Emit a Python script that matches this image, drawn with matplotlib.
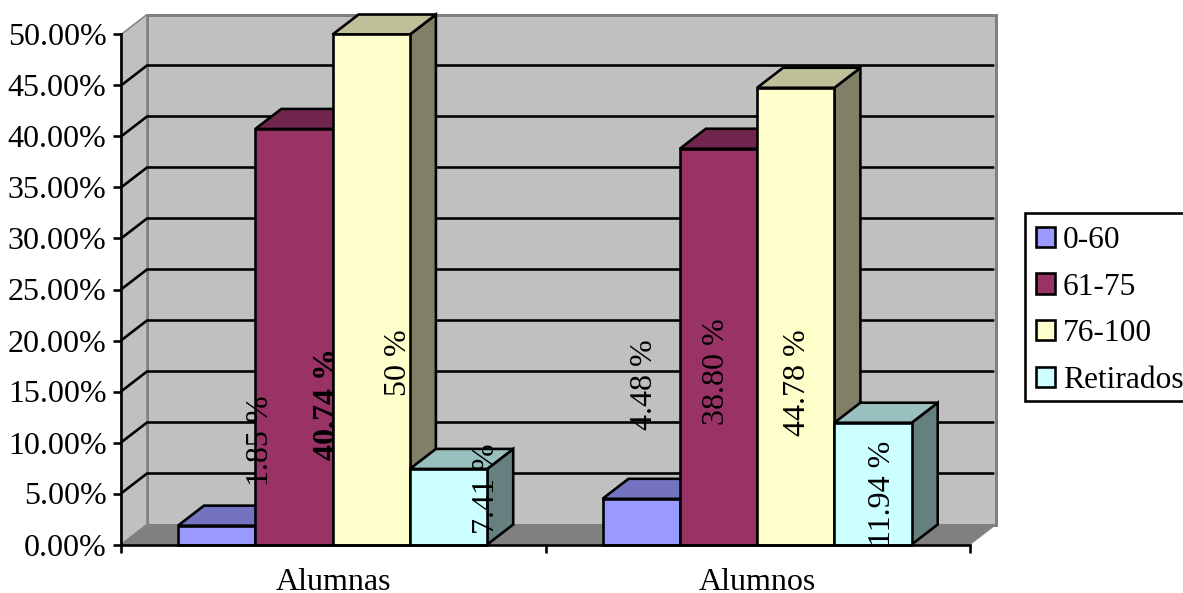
import matplotlib
matplotlib.use("Agg")
import matplotlib.pyplot as plt
from matplotlib.patches import Polygon, Patch, Rectangle
from matplotlib.colors import to_rgb

categories = ["Alumnas", "Alumnos"]
series = ["0-60", "61-75", "76-100", "Retirados"]
colors = ["#9999FF", "#993366", "#FFFFCC", "#CCFFFF"]
alumnas = [1.85, 40.74, 50.0, 7.41]
alumnos = [4.48, 38.80, 44.78, 11.94]
labels_alumnas = ["1.85 %", "40.74 %", "50 %", "7.41 %"]
labels_alumnos = ["4.48 %", "38.80 %", "44.78 %", "11.94 %"]
yticks = [0, 5, 10, 15, 20, 25, 30, 35, 40, 45, 50]

# label offsets from the bar's top centre, in pixels
offs_alumnas = [(44, 85), (34, -275.5), (27, -328), (38, -20)]
offs_alumnos = [(3, 114), (-2, -223), (1.5, -295), (9, -71)]

W, H = 1183, 593
plt.rcParams["font.family"] = ["Liberation Serif", "DejaVu Serif"]
FS = 23
PX = 0.72
fig = plt.figure(figsize=(W / 100, H / 100), dpi=100, facecolor="white")
ax = fig.add_axes([121 / W, 1 - 544.5 / H, 849 / W, 510 / H])
ax.set_xlim(0, 2)
ax.set_ylim(0, 50)
ax.patch.set_visible(False)

ux = 849 / 2
uy = 510 / 50
dx = 26 / ux
dy = 20 / uy
LW = 2.6 * PX
WALL = "#C0C0C0"
EDGE = "#808080"


def poly(pts, fc, ec, lw, z, joinstyle="miter"):
    ax.add_patch(Polygon(pts, closed=True, facecolor=fc, edgecolor=ec, linewidth=lw,
                         zorder=z, clip_on=False, joinstyle=joinstyle))


# walls and floor
poly([(dx, dy), (2 + dx, dy), (2 + dx, 50 + dy), (dx, 50 + dy)], WALL, EDGE, 3 * PX, 1)
poly([(0, 0), (dx, dy), (dx, 50 + dy), (0, 50)], WALL, EDGE, 1.5 * PX, 1)
poly([(0, 0), (2, 0), (2 + dx, dy), (dx, dy)], EDGE, EDGE, 1 * PX, 1.5)

# gridlines on the walls
for t in yticks[1:-1]:
    ax.plot([0, dx, 2 + dx - 0.004], [t, t + dy, t + dy], color="black", lw=LW, zorder=2,
            clip_on=False, solid_joinstyle="miter", solid_capstyle="butt")


def shade(c, f):
    return tuple(v * f for v in to_rgb(c))


bar_w = 77.3 / ux
start = 57 / ux
z = 3
for g, vals in enumerate([alumnas, alumnos]):
    for i, v in enumerate(vals):
        x0 = g + start + i * bar_w
        x1 = x0 + bar_w
        c = colors[i]
        poly([(x1, 0), (x1 + dx, dy), (x1 + dx, v + dy), (x1, v)], shade(c, 0.5), "black", LW, z)
        poly([(x0, v), (x1, v), (x1 + dx, v + dy), (x0 + dx, v + dy)], shade(c, 0.75), "black", LW, z)
        poly([(x0, 0), (x1, 0), (x1, v), (x0, v)], c, "black", LW, z + 0.5)
        z += 1

for g, (vals, labs, offs) in enumerate([(alumnas, labels_alumnas, offs_alumnas),
                                        (alumnos, labels_alumnos, offs_alumnos)]):
    for i, v in enumerate(vals):
        xc = g + start + (i + 0.5) * bar_w
        ax.annotate(labs[i], xy=(xc, v), xytext=(offs[i][0] * PX, offs[i][1] * PX),
                    textcoords="offset points", rotation=90, ha="center", va="center",
                    fontsize=FS, color="black", zorder=40, annotation_clip=False,
                    fontweight="bold" if labs[i] == "40.74 %" else "normal")

# axes
for s in ("top", "right"):
    ax.spines[s].set_visible(False)
for s in ("left", "bottom"):
    ax.spines[s].set_linewidth(LW)
    ax.spines[s].set_zorder(30)
ax.set_yticks(yticks)
ax.set_yticklabels([f"{t:.2f}%" for t in yticks], fontsize=FS)
ax.tick_params(axis="y", length=8 * PX, width=LW, pad=6.5 * PX)
ax.set_xticks([0, 1, 2])
ax.set_xticklabels([])
ax.set_xticks([0.5, 1.5], minor=True)
ax.set_xticklabels(categories, minor=True, fontsize=FS)
ax.tick_params(axis="x", which="major", length=8 * PX, width=LW)
ax.tick_params(axis="x", which="minor", length=0, pad=23.5 * PX)

# legend: frame drawn as a figure rectangle, running to the figure edge
fig.add_artist(Rectangle((1025 / W, 1 - 401 / H), (W + 10 - 1025) / W, 188 / H,
                         transform=fig.transFigure, facecolor="white", edgecolor="black",
                         linewidth=LW, zorder=5))
handles = [Patch(facecolor=c, edgecolor="black", linewidth=LW) for c in colors]
leg = fig.legend(handles, series, loc="upper left", bbox_to_anchor=(1025 / W, 1 - 215 / H),
                 bbox_transform=fig.transFigure, fontsize=22.7, frameon=False,
                 handlelength=0.61, handleheight=0.61,
                 handletextpad=0.24, labelspacing=0.56, borderpad=0.35, borderaxespad=0)
leg.set_zorder(6)

fig.savefig("out.png", dpi=100, facecolor="white")
